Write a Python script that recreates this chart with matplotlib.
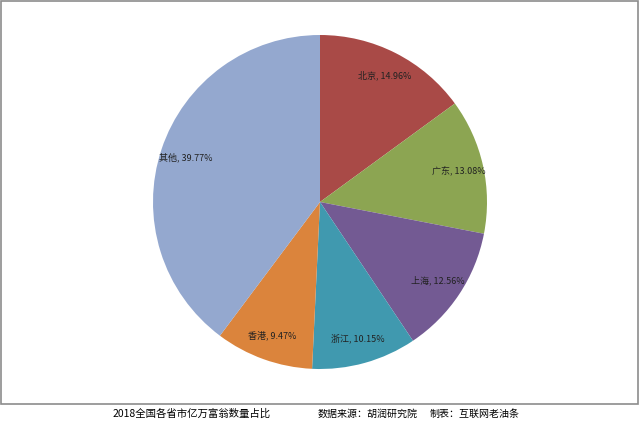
import matplotlib.pyplot as plt
from matplotlib.patches import Rectangle

plt.rcParams['font.family'] = ['Noto Sans CJK SC', 'DejaVu Sans']

### data #####
names = ["北京", "广东", "上海", "浙江", "香港", "其他"]
shares = [14.96, 13.08, 12.56, 10.15, 9.47, 39.77]
colors = ["#A94A47", "#8CA552", "#735A93", "#4099AF", "#DB843C", "#94A8CF"]
#######

W, H = 640, 423
fig = plt.figure(figsize=(W / 100, H / 100), dpi=100)
ax = fig.add_axes([0, 0, 1, 1])

labels = [f"{n}, {v:.2f}%" for n, v in zip(names, shares)]
wedges, texts = ax.pie(shares, labels=labels, colors=colors, startangle=90,
                       counterclock=False, center=(320, H - 202), radius=167,
                       labeldistance=0.85, frame=True,
                       wedgeprops=dict(linewidth=0),
                       textprops=dict(fontsize=6.5, color="#222222"))
for t in texts:
    t.set_ha("center")
    t.set_va("center")

ax.set_xlim(0, W)
ax.set_ylim(0, H)
ax.axis("off")

# chart area border
ax.add_patch(Rectangle((1, H - 404), 637, 403.5, fill=False,
                       edgecolor="#8c8c8c", linewidth=1.2))

fig.text(113 / W, 1 - 414 / H, "2018全国各省市亿万富翁数量占比", fontsize=7.5, va="center")
fig.text(318 / W, 1 - 414 / H, "数据来源：胡润研究院", fontsize=7.2, va="center")
fig.text(430 / W, 1 - 414 / H, "制表：互联网老油条", fontsize=7.2, va="center")

fig.savefig("out.png", dpi=100)
